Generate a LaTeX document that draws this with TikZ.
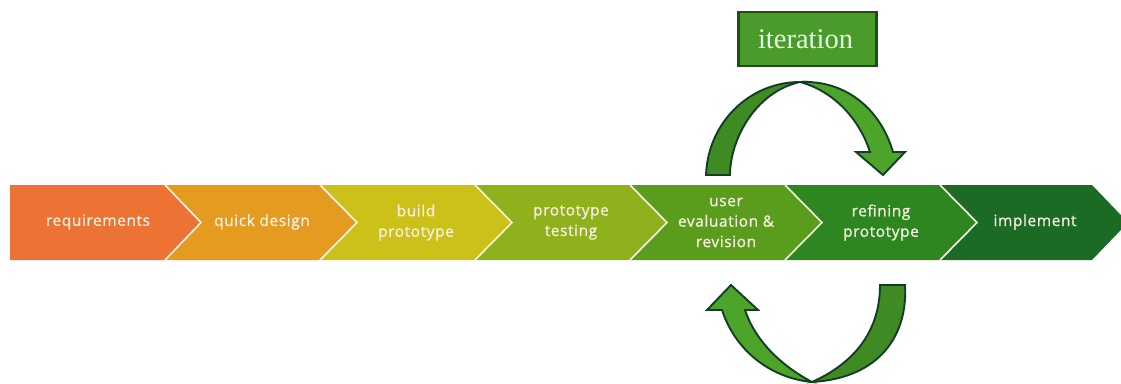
\documentclass[tikz,border=0pt]{standalone}
\usepackage{fontspec}
\setmainfont{Open Sans}[FakeBold=1]
\newfontfamily\iterfont{Liberation Serif}
\definecolor{cA}{HTML}{EC7333}
\definecolor{cB}{HTML}{E49B1F}
\definecolor{cC}{HTML}{CCC118}
\definecolor{cD}{HTML}{8FB11C}
\definecolor{cE}{HTML}{5A9D1C}
\definecolor{cF}{HTML}{2D8620}
\definecolor{cG}{HTML}{1B6B25}
\definecolor{arrdark}{HTML}{3F8A22}
\definecolor{arrlight}{HTML}{4CA52A}
\definecolor{arredge}{HTML}{123F24}
\definecolor{boxfill}{HTML}{4A9B2B}
\definecolor{boxedge}{HTML}{1F4D12}
\definecolor{labelc}{HTML}{F6EFDF}
\tikzset{
  sepline/.style={draw=labelc!75!white, line width=1.6pt},
  chevlabel/.style={text=labelc, align=center, font=\fontsize{15.4}{20.5}\selectfont\addfontfeatures{LetterSpace=4}},
  bendarrow/.style={draw=arredge, line width=1.9pt, line join=miter},
  iterbox/.style={draw=boxedge, line width=2.4pt, fill=boxfill, minimum width=138pt, minimum height=54pt, inner sep=0pt, text=white!90!green, font=\iterfont\fontsize{28.5}{30}\selectfont}
}
\begin{document}
\begin{tikzpicture}[x=1pt,y=-1pt]
\useasboundingbox (0,0) rectangle (1121,383);
\begin{scope}
\clip (0,0) rectangle (1121,383);
\fill[cG] (940,185) -- (1092,185) -- (1128,222.5) -- (1092,260) -- (940,260) -- cycle;
\fill[cF] (785,185) -- (940,185) -- (977,222.5) -- (940,260) -- (785,260) -- cycle;
\fill[cE] (630,185) -- (785,185) -- (822,222.5) -- (785,260) -- (630,260) -- cycle;
\fill[cD] (475,185) -- (630,185) -- (667,222.5) -- (630,260) -- (475,260) -- cycle;
\fill[cC] (320,185) -- (475,185) -- (512,222.5) -- (475,260) -- (320,260) -- cycle;
\fill[cB] (165,185) -- (320,185) -- (357,222.5) -- (320,260) -- (165,260) -- cycle;
\fill[cA] (10,185) -- (165,185) -- (201,222.5) -- (165,260) -- (10,260) -- cycle;
\draw[sepline] (165,185) -- (201,222.5) -- (165,260);
\draw[sepline] (320,185) -- (357,222.5) -- (320,260);
\draw[sepline] (475,185) -- (512,222.5) -- (475,260);
\draw[sepline] (630,185) -- (667,222.5) -- (630,260);
\draw[sepline] (785,185) -- (822,222.5) -- (785,260);
\draw[sepline] (940,185) -- (977,222.5) -- (940,260);
\end{scope}
\node[chevlabel] (requirements) at (98,222) {requirements};
\node[chevlabel] (quickdesign) at (262,222) {quick design};
\node[chevlabel] (build) at (416,222.5) {build\\prototype};
\node[chevlabel] (testing) at (571,222.5) {prototype\\testing};
\node[chevlabel] (evaluation) at (726,222.5) {user\\evaluation \&\\revision};
\node[chevlabel] (refining) at (881,222.5) {refining\\prototype};
\node[chevlabel] (implement) at (1035,222) {implement};
\node[iterbox] (iteration) at (807.5,39) {\hspace*{-4pt}iteration};
% upper bent arrow
\draw[bendarrow, fill=arrlight] (800,82) .. controls (845,80) and (880,108) .. (893,152) -- (905,152) -- (883,175) -- (856,152) -- (870,152) .. controls (858,115) and (830,90) .. (800,82) -- cycle;
\draw[bendarrow, fill=arrdark] (706,175) .. controls (708,122) and (750,82) .. (800,82) .. controls (755,92) and (730,140) .. (730,175) -- cycle;
% lower bent arrow
\draw[bendarrow, fill=arrlight] (812,382) .. controls (770,378) and (735,350) .. (722,310) -- (707,310) -- (731,285) -- (758,310) -- (745,310) .. controls (755,340) and (780,365) .. (812,382) -- cycle;
\draw[bendarrow, fill=arrdark] (905,285) .. controls (908,335) and (880,378) .. (812,382) .. controls (850,365) and (880,335) .. (880,285) -- cycle;
\end{tikzpicture}
\end{document}
